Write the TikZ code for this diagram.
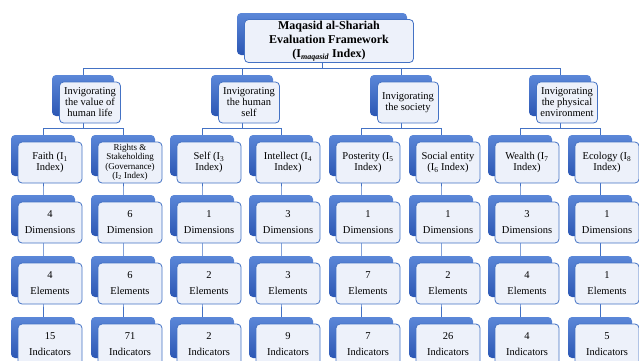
\documentclass[tikz,border=0pt]{standalone}
\usepackage{fontspec}
\setmainfont{Liberation Serif}
\usetikzlibrary{positioning,calc}
\definecolor{lineblue}{HTML}{4472C4}
\definecolor{paleblue}{HTML}{EDF1FA}
\definecolor{shadetop}{HTML}{5B87D8}
\definecolor{shadebot}{HTML}{2C57B4}
\pgfdeclarelayer{bg}
\pgfsetlayers{bg,main}

\begin{document}
\begin{tikzpicture}[
  x=1pt, y=-1pt,
  back/.style={rounded corners=4pt, draw=none, top color=shadetop, bottom color=shadebot,
    minimum width=64pt, minimum height=41pt, inner sep=0pt},
  front/.style={rounded corners=4pt, draw=lineblue, line width=0.8pt, fill=paleblue,
    minimum width=64pt, minimum height=41pt, inner sep=1pt, align=center,
    font=\fontsize{10.5}{11}\selectfont},
  smallbox/.style={front, font=\fontsize{9}{9.5}\selectfont},
  numbox/.style={front, font=\fontsize{10.5}{16}\selectfont},
  conn/.style={draw=lineblue, line width=0.8pt}
]
  \useasboundingbox (0,0) rectangle (639,360);
  \clip (0,0) rectangle (639,360);

  % framework
  \node[back, minimum width=170pt, minimum height=42pt] (top) at (322,34) {};
  \node[front, minimum width=169pt, minimum height=43pt,
    font=\fontsize{12}{14}\selectfont\bfseries] (topF) at ([shift={(7,7)}]top.center)
    {Maqasid al-Shariah\\Evaluation Framework\\(I\textsubscript{\textit{maqasid}} Index)};

  % the four domains
  \foreach \k/\x/\lbl in {1/83/{Invigorating\\the value of\\human life},
                          2/242/{Invigorating\\the human\\self},
                          3/401/{Invigorating\\the society},
                          4/560/{Invigorating\\the physical\\environment}}{
    \node[back, minimum width=62pt] (c\k) at (\x,95.5) {};
    \node[front, minimum width=61pt] (cF\k) at ([shift={(7,7)}]c\k.center) {\lbl};
  }

  % indices and their counts
  \foreach \c/\x/\st/\lbl/\dm/\dn/\el/\ind in {
      1/43/front/{Faith (I\textsubscript{1}\\Index)}/4/Dimensions/4/15,
      2/123/smallbox/{Rights \&\\Stakeholding\\(Governance)\\(I\textsubscript{2} Index)}/6/Dimension/6/71,
      3/202/front/{Self (I\textsubscript{3}\\Index)}/1/Dimensions/2/2,
      4/281/front/{Intellect (I\textsubscript{4}\\Index)}/3/Dimensions/3/9,
      5/361/front/{Posterity (I\textsubscript{5}\\Index)}/1/Dimensions/7/7,
      6/441/front/{Social entity\\(I\textsubscript{6} Index)}/1/Dimensions/2/26,
      7/520/front/{Wealth (I\textsubscript{7}\\Index)}/3/Dimensions/4/4,
      8/600/front/{Ecology (I\textsubscript{8}\\Index)}/1/Dimensions/1/5}{
    \node[back] (x\c) at (\x,155.5) {};
    \node[\st] (xF\c) at ([shift={(7,7)}]x\c.center) {\lbl};
    \node[back] (d\c) at (\x,215.5) {};
    \node[numbox] (dF\c) at ([shift={(7,7)}]d\c.center) {\dm\\\dn};
    \node[back] (e\c) at (\x,276.5) {};
    \node[numbox] (eF\c) at ([shift={(7,7)}]e\c.center) {\el\\Elements};
    \node[back] (i\c) at (\x,337.5) {};
    \node[numbox] (iF\c) at ([shift={(7,7)}]i\c.center) {\ind\\Indicators};
    \begin{pgfonlayer}{bg}
      \draw[conn] (x\c.center) -- (d\c.center) -- (e\c.center) -- (i\c.center);
    \end{pgfonlayer}
  }

  % tree connectors
  \coordinate (lvl0) at (0,68);
  \coordinate (lvl1) at (0,128);
  \begin{pgfonlayer}{bg}
    \foreach \k in {1,...,4}
      \draw[conn] (top.center) -- (top |- lvl0) -| (c\k.center);
    \foreach \k/\a/\b in {1/1/2, 2/3/4, 3/5/6, 4/7/8}{
      \draw[conn] (c\k.center) -- (c\k |- lvl1) -| (x\a.center);
      \draw[conn] (c\k |- lvl1) -| (x\b.center);
    }
  \end{pgfonlayer}
\end{tikzpicture}
\end{document}
